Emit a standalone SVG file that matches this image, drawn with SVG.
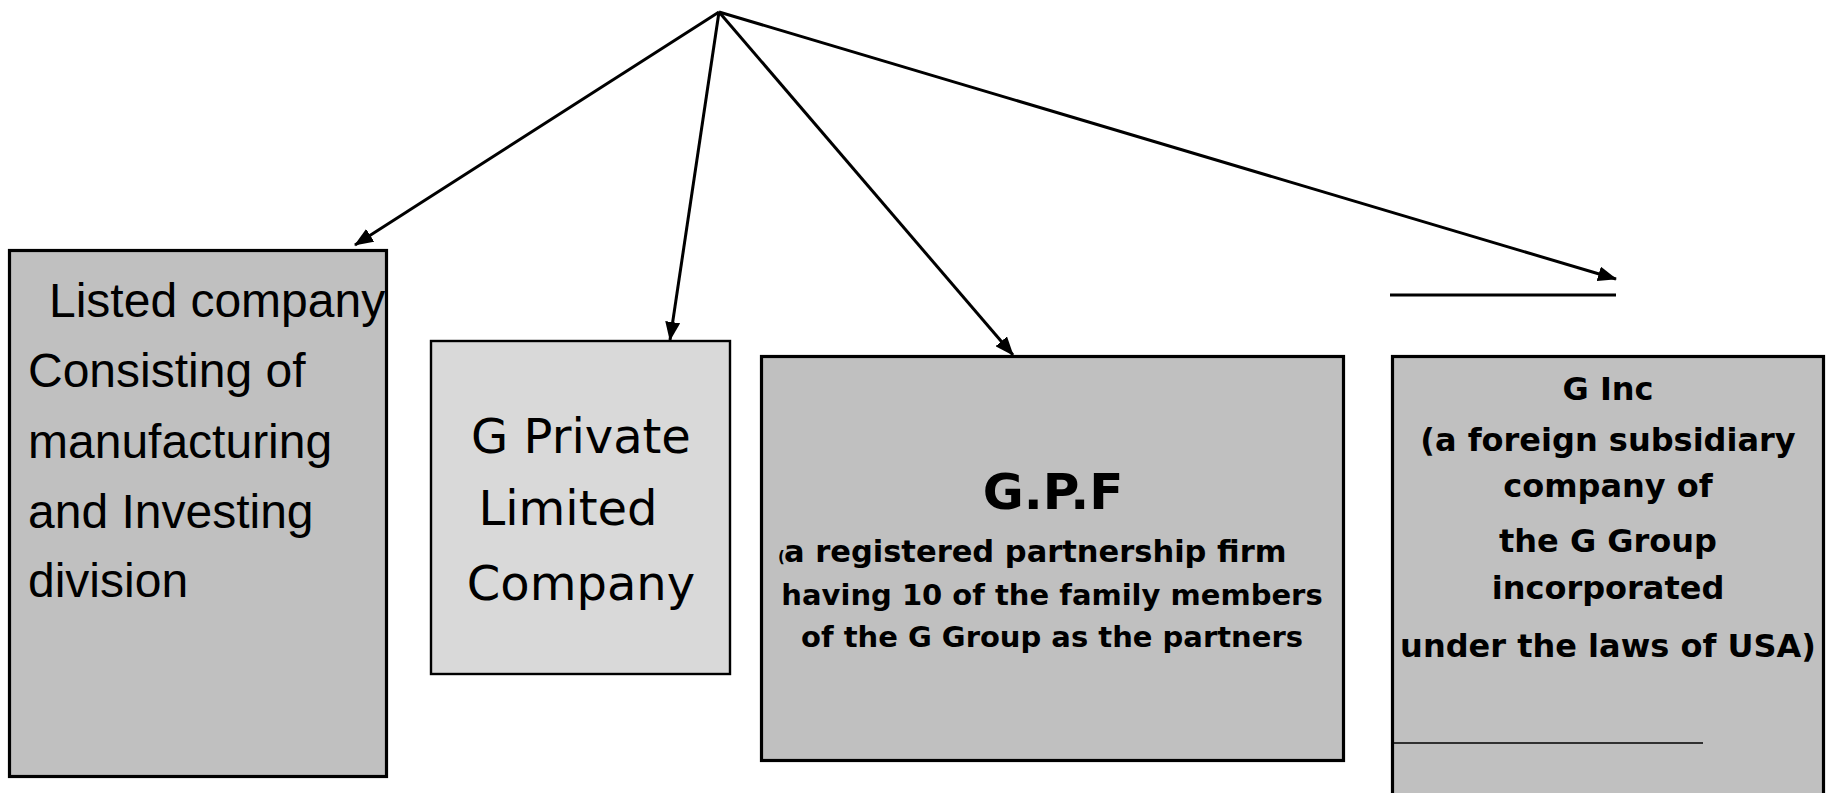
<svg xmlns="http://www.w3.org/2000/svg" width="1829" height="793" viewBox="0 0 1829 793">
<style>
.box{stroke:#000;stroke-width:3.2}
.dark{fill:#c0c0c0}
.light{fill:#d9d9d9}
.arial{font-family:"Liberation Sans",Arial,sans-serif;font-size:48px;fill:#000}
.ver{font-family:"DejaVu Sans",Verdana,sans-serif;font-size:48px;fill:#000;text-anchor:middle}
.vb{font-family:"DejaVu Sans",Verdana,sans-serif;font-weight:bold;fill:#000;text-anchor:middle}
.vbs{font-family:"DejaVu Sans",Verdana,sans-serif;font-weight:bold;fill:#000;text-anchor:start}
.conn{stroke:#000;stroke-width:3;fill:none;marker-end:url(#ah)}
.rule{stroke:#000;fill:none}
</style>
<defs>
<marker id="ah" markerUnits="userSpaceOnUse" viewBox="0 0 19 15" refX="18" refY="7.5" markerWidth="19" markerHeight="15" orient="auto">
<path d="M0,0 L19,7.5 L0,15 Z" fill="#000"/>
</marker>
</defs>
<rect width="1829" height="793" fill="#fff"/>
<g id="connectors">
<line class="conn" x1="719" y1="12" x2="355" y2="245"/>
<line class="conn" x1="719" y1="12" x2="670" y2="340"/>
<line class="conn" x1="719" y1="12" x2="1013" y2="355"/>
<line class="conn" x1="719" y1="12" x2="1616" y2="279"/>
</g>
<g id="listed-company">
<rect class="box dark" x="9.5" y="250.5" width="377" height="526"/>
<text class="arial" x="49" y="317">Listed company</text>
<text class="arial" x="28" y="387">Consisting of</text>
<text class="arial" x="28" y="458">manufacturing</text>
<text class="arial" x="28" y="528">and Investing</text>
<text class="arial" x="28" y="597">division</text>
</g>
<g id="g-private">
<rect class="light" x="431" y="341" width="299" height="333" stroke="#000" stroke-width="2.4"/>
<text class="ver" x="581" y="453">G Private</text>
<text class="ver" x="568" y="525">Limited</text>
<text class="ver" x="581" y="600">Company</text>
</g>
<g id="gpf">
<rect class="box dark" x="761.5" y="356.5" width="582" height="404"/>
<text class="vb" x="1053" y="509" font-size="50">G.P.F</text>
<text class="vbs" x="778" y="562" font-size="15" font-weight="normal" fill="#777">(</text>
<text class="vbs" x="784" y="562" font-size="30.5">a registered partnership firm</text>
<text class="vb" x="1052" y="605" font-size="29">having 10 of the family members</text>
<text class="vb" x="1052" y="647" font-size="29">of the G Group as the partners</text>
</g>
<g id="g-inc">
<line class="rule" x1="1390" y1="295" x2="1616" y2="295" stroke-width="3"/>
<rect class="box dark" x="1392.5" y="356.5" width="431" height="450"/>
<text class="vb" x="1608" y="400" font-size="32">G Inc</text>
<text class="vb" x="1608" y="451" font-size="32">(a foreign subsidiary</text>
<text class="vb" x="1608" y="497" font-size="32">company of</text>
<text class="vb" x="1608" y="552" font-size="32">the G Group</text>
<text class="vb" x="1608" y="599" font-size="32">incorporated</text>
<text class="vb" x="1608" y="657" font-size="32">under the laws of USA)</text>
<line class="rule" x1="1392" y1="743" x2="1703" y2="743" stroke-width="1.6"/>
</g>
</svg>
